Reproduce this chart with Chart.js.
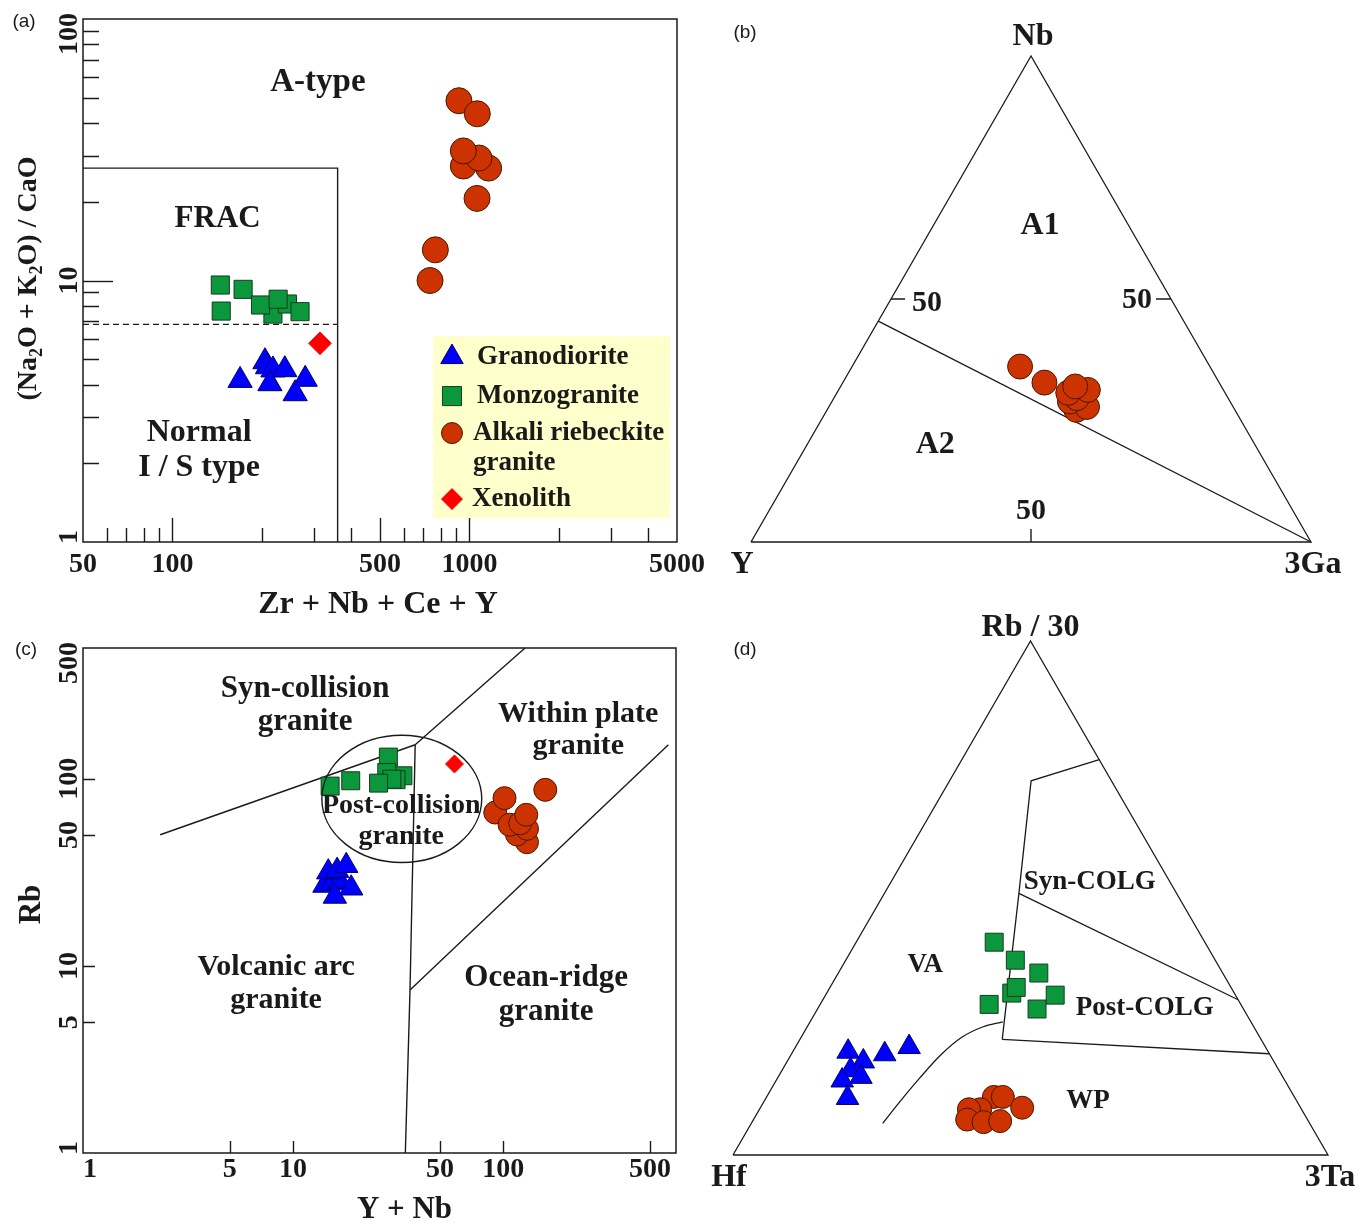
<!DOCTYPE html>
<html>
<head>
<meta charset="utf-8">
<title>Granite discrimination diagrams</title>
<script src="https://cdn.jsdelivr.net/npm/chart.js@4.4.1/dist/chart.umd.min.js"></script>
<style>
  body { margin: 0; background: #fff; }
  #fig { position: relative; width: 1360px; height: 1223px; }
  #fig canvas { position: absolute; }
</style>
</head>
<body>
<div id="fig">
  <canvas id="chartB" width="660" height="600" style="left:700px;top:0px"></canvas>
  <canvas id="chartD" width="660" height="623" style="left:700px;top:600px"></canvas>
  <canvas id="chartA" width="730" height="620" style="left:0px;top:0px"></canvas>
  <canvas id="chartC" width="700" height="603" style="left:0px;top:620px"></canvas>
</div>
<script>
// ---------- (a) Zr+Nb+Ce+Y vs (Na2O+K2O)/CaO ----------
const aGranodioriteX = [169, 205, 209, 218, 239, 213, 280, 259];
const aGranodioriteY = [4.15, 4.89, 4.68, 4.55, 4.56, 4.03, 4.19, 3.69];
const aMonzograniteX = [218, 145, 173, 146, 198, 244, 269, 227];
const aMonzograniteY = [7.44, 9.61, 9.25, 7.64, 8.06, 8.13, 7.60, 8.48];
const aRiebeckiteX = [922, 1063, 1161, 954, 1077, 954, 1061, 768, 737];
const aRiebeckiteY = [48.7, 43.4, 26.9, 27.4, 29.4, 31.3, 20.6, 13.1, 10.0];
const aXenolithX = [314];
const aXenolithY = [5.75];

const aFracX = [50, 360, 360];
const aFracY = [26.9, 26.9, 1];
const aDashX = [50, 360];
const aDashY = [6.8, 6.8];

const aXTicksMajor = [100, 500, 1000];
const aXTicksMinor = [60, 70, 80, 90, 200, 300, 400, 600, 700, 800, 900, 2000, 3000, 4000];
const aXLabels = [50, 100, 500, 1000, 5000];
const aYTicksMajor = [10];
const aYTicksMinor = [2, 3, 4, 5, 6, 7, 8, 9, 20, 30, 40, 50, 60, 70, 80, 90];
const aYLabels = [1, 10, 100];

const aRegionText = ['A-type', 'FRAC', 'Normal', 'I / S type'];
const aRegionX = [309, 142, 123, 123];
const aRegionY = [57, 17.2, 2.61, 1.92];
const aRegionSize = [33, 31, 32, 32];

const aLegendX = [754, 4735];
const aLegendY = [1.235, 6.13];

// ---------- (b) Nb - Y - 3Ga ternary ----------
const bNb = [36.1, 32.8, 27.2, 27.8, 28.9, 29.6, 30.7, 31.3, 32.0];
const bY = [33.9, 31.2, 28.3, 26.1, 28.6, 27.0, 28.0, 24.2, 26.1];
const b3Ga = [30.0, 36.0, 44.5, 46.1, 42.5, 43.4, 41.3, 44.5, 41.9];
const bLineNb = [45.45, 0];
const bLineY = [54.55, 0];
const bLine3Ga = [0, 100];
const bSideTicks = [50];
const bRegionText = ['A1', 'A2'];
const bRegionNb = [65, 20];
const bRegionY = [15.9, 57.1];
const bRegion3Ga = [19.1, 22.9];

// ---------- (c) Y+Nb vs Rb ----------
const cGranodioriteX = [14.1, 15.3, 16.7, 18.9, 14.7, 16.2, 17.9, 15.8];
const cGranodioriteY = [26.9, 27.7, 28.2, 26.0, 31.7, 32.3, 34.3, 23.5];
const cMonzograniteX = [28.4, 33.3, 27.9, 30.9, 29.5, 25.5, 15.0, 18.8];
const cMonzograniteY = [130.6, 103.8, 108, 98.9, 99.5, 94.8, 91.4, 97.6];
const cRiebeckiteX = [158.5, 91.6, 101.4, 129.7, 116.2, 129.7, 107.2, 120.5, 128.7];
const cRiebeckiteY = [87.3, 66.0, 78.8, 45.8, 50.4, 54.0, 56.8, 57.9, 64.2];
const cXenolithX = [58.6];
const cXenolithY = [120];

const cSynVagX = [2.33, 38.1];
const cSynVagY = [50.2, 152];
const cSynWpgX = [38.1, 127];
const cSynWpgY = [152, 500];
const cVagWpgX = [38.1, 36, 34.2];
const cVagWpgY = [152, 7.44, 1];
const cOrgWpgX = [36, 611];
const cOrgWpgY = [7.44, 152];
const cEllipseX = [13.7, 79];
const cEllipseY = [35.7, 171];

const cXTicks = [5, 10, 50, 100, 500];
const cYTicks = [5, 10, 50, 100];
const cXLabels = [1, 5, 10, 50, 100, 500];
const cYLabels = [1, 5, 10, 50, 100, 500];

const cRegionText = ['Syn-collision', 'granite', 'Within plate', 'granite', 'Post-collision', 'granite',
  'Volcanic arc', 'granite', 'Ocean-ridge', 'granite'];
const cRegionX = [11.4, 11.4, 227.5, 227.5, 32.7, 32.7, 8.3, 8.3, 160, 160];
const cRegionY = [303, 202, 222.6, 150, 71.7, 49, 9.88, 6.58, 8.63, 5.68];
const cRegionSize = [31, 31, 30, 30, 28, 28, 30, 30, 31, 31];

// ---------- (d) Hf - Rb/30 - 3Ta ternary ----------
const dSquareRb = [41.4, 37.9, 35.4, 31.5, 32.6, 31.1, 29.3, 28.4];
const dSquareHf = [35.4, 33.6, 30.9, 37.4, 36.1, 30.3, 42.3, 34.7];
const dSquareTa = [23.2, 28.5, 33.7, 31.1, 31.3, 38.6, 28.4, 36.9];
const dTriangleRb = [20.1, 18.2, 19.6, 21.0, 16.5, 15.2, 14.5, 11.1];
const dTriangleHf = [70.6, 69.0, 64.7, 59.9, 72.0, 70.9, 74.4, 75.2];
const dTriangleTa = [9.3, 12.8, 15.7, 19.1, 11.5, 13.9, 11.1, 13.7];
const dCircleRb = [11.3, 11.3, 9.2, 8.9, 8.9, 6.9, 6.4, 6.6];
const dCircleHf = [50.5, 49.0, 46.8, 54.0, 55.9, 57.2, 54.7, 51.8];
const dCircleTa = [38.2, 39.7, 44.0, 37.1, 35.2, 35.9, 38.9, 41.6];

const dSynLineRb = [76.9, 72.8, 50.9, 22.5];
const dSynLineHf = [0, 13.5, 26.5, 43.5];
const dSynLineTa = [23.1, 13.7, 22.6, 34.0];
const dPostLineRb = [50.9, 30.2];
const dPostLineHf = [26.5, 0];
const dPostLineTa = [22.6, 69.8];
const dWpLineRb = [22.5, 19.7];
const dWpLineHf = [43.5, 0];
const dWpLineTa = [34.0, 80.3];
const dCurveRb = [6.15, 10.1, 15.0, 19.5, 22.9, 24.9, 25.9];
const dCurveHf = [71.8, 67.1, 61.1, 55.3, 50.1, 45.6, 41.7];
const dCurveTa = [22.1, 22.8, 23.9, 25.2, 27.0, 29.5, 32.4];
const dRegionText = ['Syn-COLG', 'VA', 'Post-COLG', 'WP'];
const dRegionRb = [53.1, 37.0, 28.6, 10.5];
const dRegionHf = [13.5, 49.2, 16.5, 35.1];
const dRegionTa = [33.4, 13.8, 54.9, 54.4];

// outline of a ternary plot: left -> right -> top -> left
const TRI_TOP = [0, 0, 100, 0];
const TRI_LEFT = [100, 0, 0, 100];
const TRI_RIGHT = [0, 100, 0, 0];

// ---------- styles ----------
const SERIF = '"Liberation Serif", "Times New Roman", serif';
const SANS = '"Liberation Sans", Arial, sans-serif';
const INK = '#1a1a1a';
const GRANO = { pointStyle: 'triangle', bg: '#0000ff', border: '#00006b' };
const MONZO = { pointStyle: 'rect', bg: '#0b973b', border: '#163d1e' };
const RIEB = { pointStyle: 'circle', bg: '#cc3300', border: '#4a1600' };
const XENO = { pointStyle: 'rectRot', bg: '#ff0000', border: '#ff0000' };
const SQ3 = Math.sqrt(3) / 2;

function pts(xs, ys) { return xs.map((x, i) => ({ x: x, y: ys[i] })); }

function tern(top, left, right) {
  const s = top + left + right;
  return { x: (right + top / 2) / s, y: (top / s) * SQ3 };
}
function ternPts(top, left, right) { return top.map((t, i) => tern(t, left[i], right[i])); }

function markerSet(label, data, st, radius) {
  return {
    label: label, data: data, order: 0, clip: false, showLine: false,
    pointStyle: st.pointStyle, pointRadius: radius,
    pointBackgroundColor: st.bg, pointBorderColor: st.border, pointBorderWidth: 1
  };
}
function lineSet(data, extra) {
  return Object.assign({
    data: data, order: 5, clip: false, showLine: true, fill: false,
    pointRadius: 0, borderColor: INK, borderWidth: 1.4, tension: 0
  }, extra || {});
}

function logScale(min, max) { return { type: 'logarithmic', min: min, max: max, display: false }; }
function linScale(min, max) { return { type: 'linear', min: min, max: max, display: false }; }
function baseOptions(pad, x, y) {
  return {
    responsive: false, animation: false, events: [],
    layout: { padding: pad },
    scales: { x: x, y: y },
    plugins: { legend: { display: false }, tooltip: { enabled: false } }
  };
}
function decor(draw) {
  return { id: 'decor', afterDatasetsDraw(chart) { const c = chart.ctx; c.save(); draw(chart, c); c.restore(); } };
}

function text(ctx, str, x, y, size, align, family, weight) {
  ctx.font = (weight || 'bold') + ' ' + size + 'px ' + (family || SERIF);
  ctx.textAlign = align || 'center';
  ctx.textBaseline = 'middle';
  ctx.fillStyle = INK;
  ctx.fillText(str, x, y);
}
// vertical text reading bottom to top, glyphs centred on (cx, cy)
function vtext(ctx, parts, cx, cy, size) {
  const big = 'bold ' + size + 'px ' + SERIF;
  const small = 'bold ' + Math.round(size * 0.64) + 'px ' + SERIF;
  ctx.save();
  ctx.translate(cx, cy);
  ctx.rotate(-Math.PI / 2);
  ctx.textAlign = 'left';
  ctx.textBaseline = 'alphabetic';
  ctx.fillStyle = INK;
  let total = 0;
  parts.forEach(p => { ctx.font = p[1] ? small : big; total += ctx.measureText(p[0]).width; });
  let x = -total / 2;
  parts.forEach(p => {
    ctx.font = p[1] ? small : big;
    ctx.fillText(p[0], x, size * 0.33 + (p[1] ? size * 0.2 : 0));
    x += ctx.measureText(p[0]).width;
  });
  ctx.restore();
  return total;
}
function vWidth(ctx, str, size) {
  ctx.font = 'bold ' + size + 'px ' + SERIF;
  return ctx.measureText(str).width;
}

function frame(ctx, a) {
  ctx.strokeStyle = INK;
  ctx.lineWidth = 1.5;
  ctx.strokeRect(a.left, a.top, a.right - a.left, a.bottom - a.top);
}
function bottomTicks(ctx, scale, a, values, len) {
  ctx.beginPath();
  values.forEach(v => {
    const p = Math.round(scale.getPixelForValue(v)) + 0.5;
    ctx.moveTo(p, a.bottom); ctx.lineTo(p, a.bottom - len);
  });
  ctx.stroke();
}
function leftTicks(ctx, scale, a, values, len) {
  ctx.beginPath();
  values.forEach(v => {
    const p = Math.round(scale.getPixelForValue(v)) + 0.5;
    ctx.moveTo(a.left, p); ctx.lineTo(a.left + len, p);
  });
  ctx.stroke();
}
function yLabels(ctx, scale, a, values, cx, size) {
  values.forEach(v => {
    const w = vWidth(ctx, String(v), size);
    let cy = scale.getPixelForValue(v);
    cy = Math.max(cy, a.top - 6 + w / 2);
    cy = Math.min(cy, a.bottom + 2 - w / 2);
    vtext(ctx, [[String(v), false]], cx, cy, size);
  });
}
function xLabels(ctx, scale, a, values, cy, size, clampLeft) {
  values.forEach(v => {
    let cx = scale.getPixelForValue(v);
    if (clampLeft) cx = Math.max(cx, a.left + vWidth(ctx, String(v), size) / 2);
    text(ctx, String(v), cx, cy, size);
  });
}

// ---------- (a) ----------
const legendItems = [
  { lines: ['Granodiorite'], st: GRANO, r: 13, dy: 21, tx: 44 },
  { lines: ['Monzogranite'], st: MONZO, r: 13.5, dy: 60, tx: 44 },
  { lines: ['Alkali riebeckite', 'granite'], st: RIEB, r: 10.5, dy: 97, tx: 40 },
  { lines: ['Xenolith'], st: XENO, r: 10.5, dy: 163, tx: 39 }
];

function drawA(chart, ctx) {
  const a = chart.chartArea, xs = chart.scales.x, ys = chart.scales.y;
  frame(ctx, a);
  ctx.lineWidth = 1.4;
  bottomTicks(ctx, xs, a, aXTicksMinor, 14);
  bottomTicks(ctx, xs, a, aXTicksMajor, 24);
  leftTicks(ctx, ys, a, aYTicksMinor, 16);
  leftTicks(ctx, ys, a, aYTicksMajor, 30);

  xLabels(ctx, xs, a, aXLabels, a.bottom + 23, 28, false);
  yLabels(ctx, ys, a, aYLabels, a.left - 15, 28);

  text(ctx, 'Zr + Nb + Ce + Y', (a.left + a.right) / 2 - 2, a.bottom + 63, 32);
  vtext(ctx, [['(Na', false], ['2', true], ['O + K', false], ['2', true], ['O) / CaO', false]],
    a.left - 56, (a.top + a.bottom) / 2 - 2, 28);

  aRegionText.forEach((t, i) => text(ctx, t, xs.getPixelForValue(aRegionX[i]), ys.getPixelForValue(aRegionY[i]), aRegionSize[i]));

  // legend panel
  const lx0 = xs.getPixelForValue(aLegendX[0]), lx1 = xs.getPixelForValue(aLegendX[1]);
  const ly0 = ys.getPixelForValue(aLegendY[1]), ly1 = ys.getPixelForValue(aLegendY[0]);
  ctx.fillStyle = '#ffffcc';
  ctx.fillRect(lx0, ly0, lx1 - lx0, ly1 - ly0);
  legendItems.forEach(item => {
    ctx.fillStyle = item.st.bg;
    ctx.strokeStyle = item.st.border;
    ctx.lineWidth = 1;
    Chart.helpers.drawPoint(ctx, { pointStyle: item.st.pointStyle, radius: item.r, borderWidth: 1, rotation: 0 },
      lx0 + 19, ly0 + item.dy);
    item.lines.forEach((line, k) => text(ctx, line, lx0 + item.tx, ly0 + item.dy + k * 30, 27, 'left'));
  });

  text(ctx, '(a)', 24, 22, 19, 'center', SANS, 'normal');
}

new Chart(document.getElementById('chartA'), {
  type: 'scatter',
  data: {
    datasets: [
      markerSet('Granodiorite', pts(aGranodioriteX, aGranodioriteY), GRANO, 14),
      markerSet('Monzogranite', pts(aMonzograniteX, aMonzograniteY), MONZO, 12.8),
      markerSet('Alkali riebeckite granite', pts(aRiebeckiteX, aRiebeckiteY), RIEB, 13),
      markerSet('Xenolith', pts(aXenolithX, aXenolithY), XENO, 11.3),
      lineSet(pts(aFracX, aFracY)),
      lineSet(pts(aDashX, aDashY), { borderDash: [6, 4], borderWidth: 1.3 })
    ]
  },
  options: baseOptions({ left: 83, top: 19, right: 53, bottom: 78 }, logScale(50, 5000), logScale(1, 100)),
  plugins: [decor(drawA)]
});

// ---------- (b) ----------
function drawB(chart, ctx) {
  const xs = chart.scales.x, ys = chart.scales.y;
  const P = (t, l, r) => { const q = tern(t, l, r); return { x: xs.getPixelForValue(q.x), y: ys.getPixelForValue(q.y) }; };
  ctx.strokeStyle = INK;
  ctx.lineWidth = 1.4;
  bSideTicks.forEach(v => {
    const L = P(v, 100 - v, 0), R = P(v, 0, 100 - v), B = P(0, v, 100 - v);
    ctx.beginPath();
    ctx.moveTo(L.x, L.y); ctx.lineTo(L.x + 14, L.y);
    ctx.moveTo(R.x, R.y); ctx.lineTo(R.x - 15, R.y);
    ctx.moveTo(B.x, B.y); ctx.lineTo(B.x, B.y - 13);
    ctx.stroke();
    text(ctx, String(v), L.x + 36, L.y + 4, 30);
    text(ctx, String(v), R.x - 34, R.y + 1, 30);
    text(ctx, String(v), B.x, B.y - 31, 30);
  });
  const top = P(100, 0, 0), left = P(0, 100, 0), right = P(0, 0, 100);
  text(ctx, 'Nb', top.x + 2, top.y - 19, 32);
  text(ctx, 'Y', left.x - 9, left.y + 23, 32);
  text(ctx, '3Ga', right.x + 2, right.y + 23, 32);
  bRegionText.forEach((t, i) => { const p = P(bRegionNb[i], bRegionY[i], bRegion3Ga[i]); text(ctx, t, p.x, p.y, 32); });
  text(ctx, '(b)', 45, 33, 19, 'center', SANS, 'normal');
}

new Chart(document.getElementById('chartB'), {
  type: 'scatter',
  data: {
    datasets: [
      markerSet('Alkali riebeckite granite', ternPts(bNb, bY, b3Ga), RIEB, 12.5),
      lineSet(ternPts(TRI_TOP, TRI_LEFT, TRI_RIGHT), { borderWidth: 1.3 }),
      lineSet(ternPts(bLineNb, bLineY, bLine3Ga), { borderWidth: 1.3 })
    ]
  },
  options: baseOptions({ left: 51, top: 56, right: 49, bottom: 58 }, linScale(0, 1), linScale(0, SQ3)),
  plugins: [decor(drawB)]
});

// ---------- (c) ----------
function drawC(chart, ctx) {
  const a = chart.chartArea, xs = chart.scales.x, ys = chart.scales.y;
  frame(ctx, a);
  ctx.lineWidth = 1.4;
  bottomTicks(ctx, xs, a, cXTicks, 12);
  leftTicks(ctx, ys, a, cYTicks, 12);

  // post-collision field
  const ex0 = xs.getPixelForValue(cEllipseX[0]), ex1 = xs.getPixelForValue(cEllipseX[1]);
  const ey0 = ys.getPixelForValue(cEllipseY[1]), ey1 = ys.getPixelForValue(cEllipseY[0]);
  ctx.beginPath();
  ctx.ellipse((ex0 + ex1) / 2, (ey0 + ey1) / 2, (ex1 - ex0) / 2, (ey1 - ey0) / 2, 0, 0, Math.PI * 2);
  ctx.stroke();

  xLabels(ctx, xs, a, cXLabels, a.bottom + 17, 28, true);
  yLabels(ctx, ys, a, cYLabels, a.left - 15, 28);
  text(ctx, 'Y + Nb', (a.left + a.right) / 2 + 25, a.bottom + 57, 31);
  vtext(ctx, [['Rb', false]], a.left - 53, (a.top + a.bottom) / 2 + 4, 31);

  cRegionText.forEach((t, i) => text(ctx, t, xs.getPixelForValue(cRegionX[i]), ys.getPixelForValue(cRegionY[i]), cRegionSize[i]));
  text(ctx, '(c)', 26, 30, 19, 'center', SANS, 'normal');
}

new Chart(document.getElementById('chartC'), {
  type: 'scatter',
  data: {
    datasets: [
      markerSet('Granodiorite', pts(cGranodioriteX, cGranodioriteY), GRANO, 13.5),
      markerSet('Monzogranite', pts(cMonzograniteX, cMonzograniteY), MONZO, 12.7),
      markerSet('Alkali riebeckite granite', pts(cRiebeckiteX, cRiebeckiteY), RIEB, 11.5),
      markerSet('Xenolith', pts(cXenolithX, cXenolithY), XENO, 9),
      lineSet(pts(cSynVagX, cSynVagY)),
      lineSet(pts(cSynWpgX, cSynWpgY)),
      lineSet(pts(cVagWpgX, cVagWpgY)),
      lineSet(pts(cOrgWpgX, cOrgWpgY))
    ]
  },
  options: baseOptions({ left: 83, top: 28, right: 24, bottom: 70 }, logScale(1, 664), logScale(1, 500)),
  plugins: [decor(drawC)]
});

// ---------- (d) ----------
function drawD(chart, ctx) {
  const xs = chart.scales.x, ys = chart.scales.y;
  const P = (t, l, r) => { const q = tern(t, l, r); return { x: xs.getPixelForValue(q.x), y: ys.getPixelForValue(q.y) }; };
  const top = P(100, 0, 0), left = P(0, 100, 0), right = P(0, 0, 100);
  text(ctx, 'Rb / 30', top.x, top.y - 13, 32);
  text(ctx, 'Hf', left.x - 4, left.y + 23, 32);
  text(ctx, '3Ta', right.x + 2, right.y + 23, 32);
  dRegionText.forEach((t, i) => { const p = P(dRegionRb[i], dRegionHf[i], dRegionTa[i]); text(ctx, t, p.x, p.y, 27); });
  text(ctx, '(d)', 45, 50, 19, 'center', SANS, 'normal');
}

new Chart(document.getElementById('chartD'), {
  type: 'scatter',
  data: {
    datasets: [
      markerSet('Granodiorite', ternPts(dTriangleRb, dTriangleHf, dTriangleTa), GRANO, 13),
      markerSet('Monzogranite', ternPts(dSquareRb, dSquareHf, dSquareTa), MONZO, 12.7),
      markerSet('Alkali riebeckite granite', ternPts(dCircleRb, dCircleHf, dCircleTa), RIEB, 11.5),
      lineSet(ternPts(TRI_TOP, TRI_LEFT, TRI_RIGHT), { borderWidth: 1.3 }),
      lineSet(ternPts(dSynLineRb, dSynLineHf, dSynLineTa), { borderWidth: 1.3 }),
      lineSet(ternPts(dPostLineRb, dPostLineHf, dPostLineTa), { borderWidth: 1.3 }),
      lineSet(ternPts(dWpLineRb, dWpLineHf, dWpLineTa), { borderWidth: 1.3 }),
      lineSet(ternPts(dCurveRb, dCurveHf, dCurveTa), { borderWidth: 1.3, tension: 0.35 })
    ]
  },
  options: baseOptions({ left: 33, top: 41, right: 32, bottom: 68 }, linScale(0, 1), linScale(0, SQ3)),
  plugins: [decor(drawD)]
});
</script>
</body>
</html>
